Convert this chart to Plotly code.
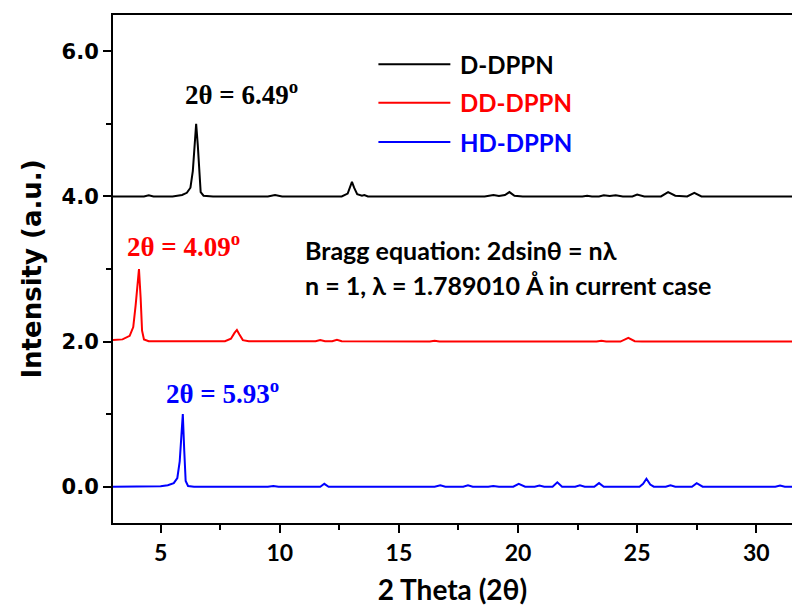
import plotly.graph_objects as go

# ---- data (2θ in degrees, normalised intensity, plotted with vertical offsets) ----
d_x = [3.0, 4.3, 4.5, 4.7, 5.5, 5.9, 6.1, 6.25, 6.35, 6.42, 6.49, 6.56, 6.62, 6.68, 6.8, 7.2,
       9.5, 9.8, 10.1, 12.6, 12.85, 12.95, 13.03, 13.12, 13.25, 13.45, 13.55, 13.7,
       18.6, 18.97, 19.2, 19.45, 19.64, 19.85, 20.2, 22.7, 22.9, 23.1, 23.4, 23.6, 23.85,
       24.1, 24.4, 24.8, 25.0, 25.3, 26.0, 26.3, 26.6, 27.1, 27.4, 27.7, 30.6, 30.9, 31.05,
       31.2, 31.5]
d_y = [0, 0, 0.015, 0, 0, 0.02, 0.05, 0.12, 0.35, 0.7, 1.0, 0.7, 0.3, 0.06, 0.01, 0,
       0, 0.02, 0, 0, 0.04, 0.12, 0.2, 0.12, 0.03, 0.01, 0.02, 0,
       0, 0.02, 0.005, 0.02, 0.06, 0.01, 0, 0, 0.01, 0, 0, 0.015, 0.005,
       0.015, 0, 0, 0.025, 0, 0, 0.06, 0.01, 0, 0.05, 0, 0, 0.01, 0,
       0.01, 0]

dd_x = [3.0, 3.4, 3.7, 3.85, 3.95, 4.02, 4.09, 4.16, 4.22, 4.3, 4.5, 7.7, 7.95, 8.1, 8.2, 8.3,
        8.45, 8.7, 11.5, 11.7, 11.9, 12.2, 12.4, 12.6, 15.3, 15.5, 15.7, 16.3, 16.5, 16.7,
        23.3, 23.5, 23.7, 24.3, 24.63, 24.9, 25.2, 31.5]
dd_y = [0.02, 0.03, 0.08, 0.2, 0.5, 0.8, 1.0, 0.6, 0.15, 0.03, 0.005, 0.005, 0.04, 0.12, 0.16, 0.1,
        0.02, 0.005, 0.005, 0.02, 0.005, 0.005, 0.025, 0.005, 0, 0.01, 0, 0, 0.01, 0,
        0, 0.01, 0, 0, 0.05, 0.005, 0, 0]

hd_x = [3.0, 5.0, 5.3, 5.55, 5.7, 5.8, 5.87, 5.93, 5.99, 6.05, 6.15, 6.4, 9.5, 9.73, 9.95,
        11.0, 11.14, 11.3, 11.7, 11.87, 12.05, 16.5, 16.74, 16.95, 17.7, 17.9, 18.1,
        18.75, 18.96, 19.2, 19.8, 20.03, 20.3, 20.7, 20.9, 21.1, 21.45, 21.65, 21.85,
        22.4, 22.6, 22.8, 23.2, 23.4, 23.6, 25.1, 25.25, 25.39, 25.55, 25.7, 26.2, 26.4,
        26.6, 27.3, 27.5, 27.75, 29.9, 30.1, 30.3, 30.8, 31.0, 31.2, 31.5]
hd_y = [0, 0.005, 0.02, 0.05, 0.12, 0.35, 0.7, 1.0, 0.5, 0.08, 0.01, 0, 0, 0.01, 0,
        0, 0.01, 0, 0, 0.04, 0, 0, 0.02, 0, 0, 0.02, 0,
        0, 0.01, 0, 0, 0.04, 0, 0, 0.015, 0, 0, 0.06, 0,
        0, 0.02, 0, 0, 0.05, 0, 0, 0.04, 0.11, 0.03, 0, 0, 0.02,
        0, 0, 0.05, 0, 0, 0.01, 0, 0, 0.015, 0, 0]

series_names = ["D-DPPN", "DD-DPPN", "HD-DPPN"]
series_offsets = [4.0, 2.0, 0.0]
series_colors = ["#000000", "#ff0000", "#0000ff"]
peak_labels = ["6.49", "4.09", "5.93"]

y_ticks = [0, 2, 4, 6]
x_ticks = [5, 10, 15, 20, 25, 30]

xs = [d_x, dd_x, hd_x]
ys = [d_y, dd_y, hd_y]

fig = go.Figure()
for name, x, y, off, col in zip(series_names, xs, ys, series_offsets, series_colors):
    fig.add_trace(go.Scatter(x=x, y=[v + off for v in y], mode="lines", name=name,
                             line=dict(color=col, width=2), showlegend=False))

sans = "Lato, Open Sans, sans-serif"
serif = "Liberation Serif, Times New Roman, serif"

# peak annotations
ann_pos = [(8.38, 5.42), (5.95, 3.33), (7.58, 1.31)]
for lab, (ax, ay), col in zip(peak_labels, ann_pos, series_colors):
    fig.add_annotation(x=ax, y=ay, xref="x", yref="y", showarrow=False,
                       text="<b>2θ = " + lab + "<sup>o</sup></b>",
                       font=dict(family=serif, size=27, color=col),
                       xanchor="center", yanchor="middle")

# Bragg equation text
fig.add_annotation(x=10.99, y=3.26, xref="x", yref="y", showarrow=False,
                   text="<b>Bragg equation: 2dsinθ = nλ</b>",
                   font=dict(family=sans, size=25, color="#000000"),
                   xanchor="left", yanchor="middle")
fig.add_annotation(x=10.99, y=2.78, xref="x", yref="y", showarrow=False,
                   text="<b>n = 1, λ = 1.789010 Å in current case</b>",
                   font=dict(family=sans, size=25, color="#000000"),
                   xanchor="left", yanchor="middle")

# manual legend
leg_y = [5.82, 5.29, 4.75]
for name, col, ly in zip(series_names, series_colors, leg_y):
    fig.add_shape(type="line", x0=14.14, x1=17.16, y0=ly, y1=ly, xref="x", yref="y",
                  line=dict(color=col, width=2))
    fig.add_annotation(x=17.5, y=ly, xref="x", yref="y", showarrow=False,
                       text="<b>" + name + "</b>",
                       font=dict(family=sans, size=24, color=col),
                       xanchor="left", yanchor="middle")

fig.update_layout(
    width=792, height=614,
    margin=dict(l=113, r=0, t=15, b=91),
    paper_bgcolor="white", plot_bgcolor="white",
    showlegend=False,
)
fig.update_xaxes(
    range=[3, 31.5], tickvals=x_ticks, ticktext=[str(v) for v in x_ticks],
    showline=True, linecolor="black", linewidth=2, mirror=True,
    ticks="outside", ticklen=8, tickwidth=2, tickcolor="black",
    minor=dict(dtick=2.5, tick0=0, ticks="outside", ticklen=5, tickwidth=2, tickcolor="black"),
    showgrid=False, zeroline=False,
    tickfont=dict(family=sans, size=23, color="black", weight="bold"),
    title=dict(text="2 Theta (2θ)", font=dict(family=sans, size=28, color="black", weight="bold"),
               standoff=16),
)
fig.update_yaxes(
    range=[-0.5, 6.5], tickvals=y_ticks, ticktext=["%.1f" % v for v in y_ticks],
    showline=True, linecolor="black", linewidth=2, mirror=False,
    ticks="outside", ticklen=8, tickwidth=2, tickcolor="black",
    minor=dict(dtick=1, tick0=0, ticks="outside", ticklen=5, tickwidth=2, tickcolor="black"),
    showgrid=False, zeroline=False,
    tickfont=dict(family="DejaVu Sans", size=21, color="black", weight="bold"),
    title=dict(text="Intensity (a.u.)", font=dict(family="DejaVu Sans", size=26, color="black", weight="bold"),
               standoff=12),
)

fig.write_html("out.html")
